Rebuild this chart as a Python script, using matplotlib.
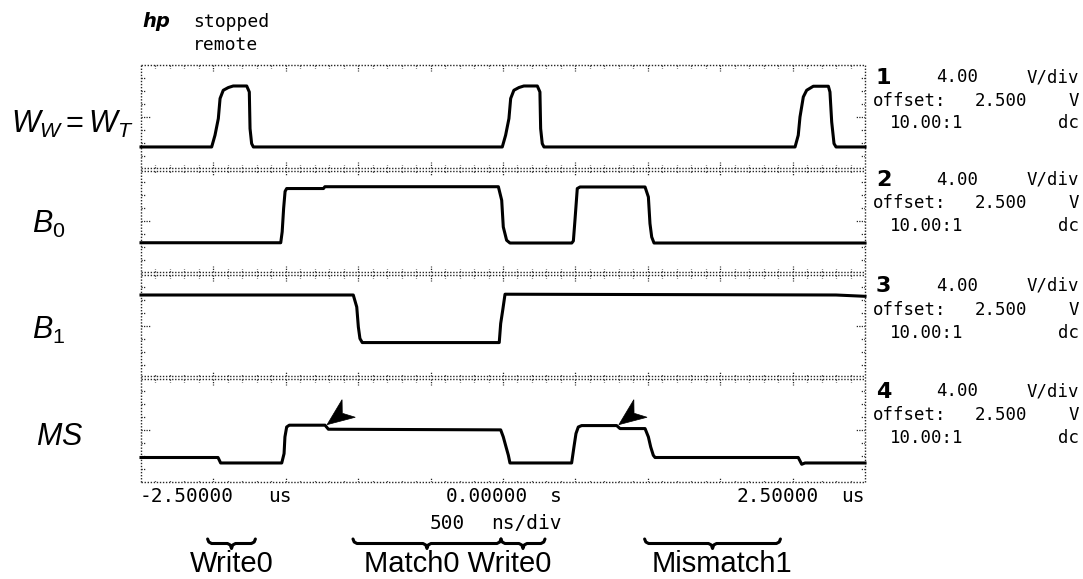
import numpy as np
import matplotlib
matplotlib.use("Agg")
import matplotlib.pyplot as plt
from matplotlib.patches import Polygon
from matplotlib.collections import LineCollection
from matplotlib.transforms import ScaledTranslation, blended_transform_factory

# ------------------------------------------------------------------ data
# time in microseconds, level in vertical divisions inside each channel strip (0..8)
ww_t = [-2.50, -2.012, -1.989, -1.966, -1.954, -1.932, -1.897, -1.863, -1.770, -1.752, -1.747, -1.736, -1.724,
        -0.005, 0.018, 0.041, 0.053, 0.075, 0.110, 0.144, 0.237, 0.255, 0.260, 0.271, 0.283,
        2.017, 2.039, 2.051, 2.074, 2.097, 2.143, 2.247, 2.258, 2.270, 2.286, 2.300, 2.50]
ww_v = [1.71, 1.71, 2.61, 3.89, 5.43, 6.06, 6.27, 6.39, 6.39, 5.93, 3.12, 1.97, 1.71,
        1.71, 2.61, 3.89, 5.43, 6.06, 6.27, 6.39, 6.39, 5.93, 3.12, 1.97, 1.71,
        1.71, 2.61, 4.01, 5.55, 6.06, 6.37, 6.37, 5.93, 3.63, 1.97, 1.71, 1.71]

b0_t = [-2.50, -1.535, -1.525, -1.515, -1.505, -1.494, -1.24, -1.23, -0.032, -0.009, 0.002, 0.025, 0.048,
        0.475, 0.486, 0.497, 0.513, 0.532, 0.981, 1.004, 1.015, 1.027, 1.043, 2.50]
b0_v = [2.36, 2.36, 3.20, 5.00, 6.30, 6.52, 6.52, 6.66, 6.66, 5.62, 3.57, 2.55, 2.34,
        2.34, 2.50, 4.09, 6.52, 6.64, 6.64, 5.87, 3.83, 2.80, 2.34, 2.34]

b1_t = [-2.50, -1.034, -1.010, -0.999, -0.988, -0.972, -0.026, -0.016, -0.002, 0.014, 2.30, 2.50]
b1_v = [6.35, 6.35, 5.43, 3.90, 3.01, 2.70, 2.70, 4.16, 5.18, 6.41, 6.35, 6.25]

ms_t = [-2.50, -1.968, -1.950, -1.528, -1.512, -1.506, -1.494, -1.476, -1.229, -1.206, -0.016, 0.002, 0.021,
        0.037, 0.048, 0.474, 0.490, 0.504, 0.520, 0.543, 0.785, 0.808, 0.981, 1.004, 1.020, 1.038, 1.050,
        2.039, 2.063, 2.086, 2.50]
ms_v = [1.88, 1.88, 1.46, 1.46, 2.18, 3.46, 4.22, 4.36, 4.36, 4.05, 4.00, 3.46, 2.69,
        2.05, 1.46, 1.46, 2.69, 3.72, 4.22, 4.33, 4.33, 4.10, 4.10, 3.46, 2.69, 2.05, 1.88,
        1.88, 1.36, 1.46, 1.46]

channel_labels = [r"$W_W{=}W_T$", r"$\mathit{B_0}$", r"$\mathit{B_1}$", r"$MS$"]
channel_numbers = ["1", "2", "3", "4"]
volts_per_div = ["4.00", "4.00", "4.00", "4.00"]
offsets = ["2.500", "2.500", "2.500", "2.500"]
probe_ratios = ["10.00:1", "10.00:1", "10.00:1", "10.00:1"]
couplings = ["dc", "dc", "dc", "dc"]

arrow_t = [-1.215, 0.800]      # marker arrows on the MS trace
arrow_v = [4.40, 4.40]

time_labels = [("-2.50000", "us"), ("0.00000", "s"), ("2.50000", "us")]
timebase = ("500", "ns/div")
status_lines = ["stopped", "remote"]

phase_start = [-2.04, -1.036, -0.014, 0.978]
phase_end = [-1.71, -0.014, 0.290, 1.916]
phase_labels = ["Write0", "Match0 Write0", "Mismatch1"]

# ------------------------------------------------------------------ figure
W, H = 1083, 579
plt.rcParams["mathtext.fontset"] = "custom"
plt.rcParams["mathtext.it"] = "Liberation Sans:italic"
plt.rcParams["mathtext.rm"] = "Liberation Sans"
plt.rcParams["mathtext.bf"] = "Liberation Sans:bold"

fig = plt.figure(figsize=(W / 100, H / 100), dpi=100)
fig.patch.set_facecolor("white")
L, R, T, B = 141, 865, 65, 482
ax = fig.add_axes([L / W, 1 - B / H, (R - L) / W, (B - T) / H])
ax.set_xlim(-2.5, 2.5)
ax.set_ylim(0, 32)
ax.axis("off")

px_x = 5.0 / (R - L)
px_y = 32.0 / (B - T)

GRID = "0.15"
DOT = (0, (1, 1.2))

# horizontal edges (outer border + double separators)
gap = 1.6 * px_y
edges = [(32.0, -1), (0.0, +1)]
for bnd in (8, 16, 24):
    edges.append((bnd + gap, +1))
    edges.append((bnd - gap, -1))

minor = [x for x in np.round(np.arange(-2.4, 2.41, 0.1), 3) if abs(round(x / 0.5) * 0.5 - x) > 1e-6]
major = list(np.round(np.arange(-2.0, 2.01, 0.5), 3))
segs = []
for y, d in edges:
    ax.plot([-2.5, 2.5], [y, y], ls=DOT, lw=1.0, color=GRID, clip_on=False)
    for x in minor:
        segs.append([(x, y), (x, y + d * 2.5 * px_y)])
    for x in major:
        segs.append([(x, y), (x, y + d * 5.5 * px_y)])

# vertical edges
for x, d in ((-2.5, +1), (2.5, -1)):
    ax.plot([x, x], [0, 32], ls=DOT, lw=1.0, color=GRID, clip_on=False)
    for s in range(4):
        for k in range(1, 8):
            ln = 10 if k == 4 else 4
            segs.append([(x, s * 8 + k), (x + d * ln * px_x, s * 8 + k)])
ax.add_collection(LineCollection(segs, colors=GRID, linewidths=0.9, linestyles=[(0, (1, 1))]))

# traces
traces = [(ww_t, ww_v), (b0_t, b0_v), (b1_t, b1_v), (ms_t, ms_v)]
for i, (tt, vv) in enumerate(traces):
    off = 8 * (3 - i)
    ax.plot(tt, np.array(vv) + off, color="black", lw=2.2, solid_joinstyle="round", clip_on=False)

# arrowheads (stealth shape pointing down-left), sized in pixels
u = np.array([0.80, 0.60])
p = np.array([-0.60, 0.80])
shape_px = [np.zeros(2), 27 * u + 11 * p, 19 * u, 27 * u - 11 * p]
shape_in = [tuple(v / 100.0) for v in shape_px]
for t, v in zip(arrow_t, arrow_v):
    tr = fig.dpi_scale_trans + ScaledTranslation(t, v, ax.transData)
    ax.add_patch(Polygon(shape_in, closed=True, facecolor="black", edgecolor="black",
                         lw=0.5, transform=tr, clip_on=False))


def ftext(x, y, s, **kw):
    return fig.text(x / W, 1 - y / H, s, **kw)


MONO = "DejaVu Sans Mono"
RS = 12.5   # right-hand settings text size
AS = 14     # time-axis text size

# header
ftext(142, 27, "hp", fontsize=14, fontstyle="italic", fontweight="bold", family="DejaVu Sans",
      va="baseline")
ftext(193, 27, status_lines[0], fontsize=13, family=MONO, va="baseline")
ftext(193, 50, status_lines[1], fontsize=13, family=MONO, va="baseline")

# channel names on the left
label_pos = [(11, 133), (32, 233), (32, 339), (36, 445)]
for (x, y), s in zip(label_pos, channel_labels):
    ftext(x, y, s, fontsize=22, va="baseline")

# channel settings on the right
base_lines = [(82, 106, 128), (185, 207.5, 231), (291, 315, 338), (396, 420, 443)]
for k, (y1, y2, y3) in enumerate(base_lines):
    ftext(876, y1 + 1.5, channel_numbers[k], fontsize=16, fontweight="bold", family="DejaVu Sans",
          va="baseline")
    ftext(936, y1, volts_per_div[k], fontsize=RS, family=MONO, va="baseline")
    ftext(1079, y1, "V/div", fontsize=RS, family=MONO, va="baseline", ha="right")
    ftext(873, y2, "offset:", fontsize=RS, family=MONO, va="baseline")
    ftext(975, y2, offsets[k], fontsize=RS, family=MONO, va="baseline")
    ftext(1079, y2, "V", fontsize=RS, family=MONO, va="baseline", ha="right")
    ftext(890, y3, probe_ratios[k], fontsize=RS, family=MONO, va="baseline")
    ftext(1079, y3, couplings[k], fontsize=RS, family=MONO, va="baseline", ha="right")

# time axis labels
tpos = [(140, 292), (446, 562), (736, 865)]
for (a, b), (num, unit) in zip(tpos, time_labels):
    ftext(a, 502, num, fontsize=AS, family=MONO, va="baseline")
    ftext(b, 502, unit, fontsize=AS, family=MONO, va="baseline", ha="right")
ftext(430, 529, timebase[0], fontsize=AS, family=MONO, va="baseline")
ftext(562, 529, timebase[1], fontsize=AS, family=MONO, va="baseline", ha="right")

# phase braces below the plot
btr = blended_transform_factory(ax.transData, fig.transFigure)
dd = 4 * px_x
for x0, x1 in zip(phase_start, phase_end):
    xc = 0.5 * (x0 + x1)
    pts = [(x0, 539), (x0 + 0.3 * dd, 542), (x0 + dd, 543.5), (xc - dd, 543.5), (xc - 0.3 * dd, 545),
           (xc, 548.5), (xc + 0.3 * dd, 545), (xc + dd, 543.5), (x1 - dd, 543.5), (x1 - 0.3 * dd, 542),
           (x1, 539)]
    xs = [q[0] for q in pts]
    ys = [1 - q[1] / H for q in pts]
    fig.add_artist(plt.Line2D(xs, ys, transform=btr, color="black", lw=2.2,
                              solid_joinstyle="round", solid_capstyle="round"))

label_x = [232, 458, 722]
for x, s in zip(label_x, phase_labels):
    ftext(x, 578.5, s, fontsize=21, family="Liberation Sans", va="bottom", ha="center")

fig.savefig("out.png", dpi=100, facecolor="white")
